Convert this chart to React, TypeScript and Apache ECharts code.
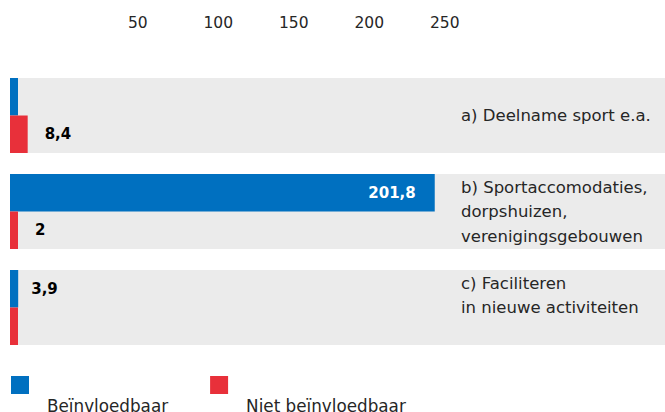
import React, { useEffect, useRef } from "react";
import * as echarts from "echarts";

const categories = [
  "a) Deelname sport e.a.",
  "b) Sportaccomodaties,\ndorpshuizen,\nverenigingsgebouwen",
  "c) Faciliteren\nin nieuwe activiteiten",
];
const beinvloedbaar = [0, 201.8, 3.9];
const nietBeinvloedbaar = [8.4, 2, 0];
const topTicks = [50, 100, 150, 200, 250];
const bandValues = [1, 1, 1];
const seriesNames = ["Beïnvloedbaar", "Niet beïnvloedbaar"];

const FONT = "DejaVu Sans";
const BLUE = "#0070C0";
const RED = "#E8303A";
const GRAY = "#EBEBEB";

const fmt = (v: number) => (v === 0 ? "" : String(v).replace(".", ","));

export default function App() {
  const ref = useRef<HTMLDivElement>(null);
  useEffect(() => {
    document.body.style.margin = "0";
    if (!ref.current) return;
    const chart = echarts.init(ref.current, undefined, { renderer: "svg" });
    const gridTop = 67.5;
    const gridBottom = 56.5;
    chart.setOption({
      animation: false,
      textStyle: { fontFamily: FONT },
      grid: [
        { left: 10, right: 213, top: gridTop, bottom: gridBottom },
        { left: 10, right: 0, top: gridTop, bottom: gridBottom },
      ],
      legend: {
        left: 11,
        top: 343,
        padding: 0,
        itemWidth: 18,
        itemHeight: 18,
        itemGap: 42,
        icon: "rect",
        data: seriesNames,
        formatter: (name: string) => "\n" + name,
        textStyle: {
          fontFamily: FONT,
          fontSize: 16.8,
          color: "#262626",
          lineHeight: 42,
          padding: [0, 0, 0, 13],
        },
      },
      xAxis: [
        { type: "value", gridIndex: 0, min: 0, max: 210, show: false },
        {
          type: "value",
          gridIndex: 0,
          position: "top",
          min: -28.1,
          max: 264.6,
          axisLine: { show: false },
          axisTick: { show: false },
          splitLine: { show: false },
          axisLabel: {
            customValues: topTicks,
            align: "left",
            margin: 37,
            fontFamily: FONT,
            fontSize: 15.5,
            color: "#262626",
          },
        },
        { type: "value", gridIndex: 1, min: 0, max: 1, show: false },
      ],
      yAxis: [
        {
          type: "category",
          gridIndex: 0,
          data: categories,
          inverse: true,
          position: "right",
          z: 10,
          axisLine: { show: false },
          axisTick: { show: false },
          axisLabel: {
            align: "left",
            margin: 9,
            fontFamily: FONT,
            fontSize: 16.5,
            lineHeight: 24.5,
            color: "#262626",
            formatter: (v: string, i: number) => (i === 2 ? v + "\n " : v),
          },
        },
        {
          type: "category",
          gridIndex: 1,
          data: categories,
          inverse: true,
          show: false,
        },
      ],
      series: [
        {
          type: "bar",
          name: "band",
          xAxisIndex: 2,
          yAxisIndex: 1,
          data: bandValues,
          barWidth: 75,
          z: 1,
          silent: true,
          itemStyle: { color: GRAY },
        },
        {
          type: "bar",
          name: seriesNames[0],
          xAxisIndex: 0,
          yAxisIndex: 0,
          data: beinvloedbaar.map((v) =>
            v > 100
              ? {
                  value: v,
                  label: {
                    position: "insideRight",
                    distance: 19,
                    color: "#fff",
                  },
                }
              : v
          ),
          barWidth: 37.5,
          barGap: "0%",
          barMinHeight: 8,
          z: 3,
          itemStyle: { color: BLUE },
          label: {
            show: true,
            position: "right",
            distance: 13,
            fontFamily: FONT,
            fontSize: 15,
            fontWeight: "bold",
            color: "#000",
            formatter: (p: any) => fmt(p.value),
          },
        },
        {
          type: "bar",
          name: seriesNames[1],
          xAxisIndex: 0,
          yAxisIndex: 0,
          data: nietBeinvloedbaar,
          barWidth: 37.5,
          barGap: "0%",
          barMinHeight: 8,
          z: 3,
          itemStyle: { color: RED },
          label: {
            show: true,
            position: "right",
            distance: 17,
            fontFamily: FONT,
            fontSize: 15,
            fontWeight: "bold",
            color: "#000",
            formatter: (p: any) => fmt(p.value),
          },
        },
      ],
    });
    return () => chart.dispose();
  }, []);
  return (
    <div
      ref={ref}
      style={{ position: "absolute", left: 0, top: 0, width: 665, height: 412 }}
    />
  );
}
